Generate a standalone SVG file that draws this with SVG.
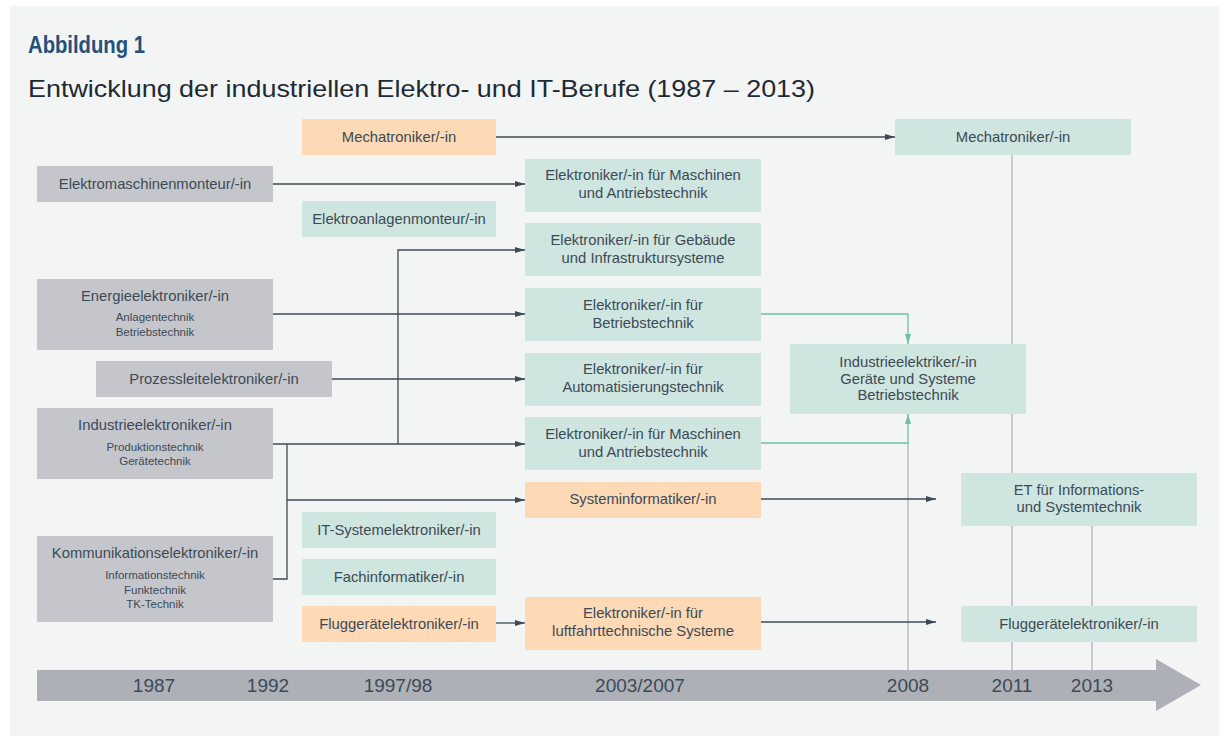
<svg xmlns="http://www.w3.org/2000/svg" width="1219" height="738" viewBox="0 0 1219 738">
<style>
.t{font-family:"Liberation Sans",Arial,sans-serif;fill:#3c4a56;text-anchor:middle;dominant-baseline:central}
.m{font-size:14.8px}
.s{font-size:11.5px}
.y{font-size:19px;font-family:"Liberation Sans",Arial,sans-serif;fill:#3c4a56;text-anchor:middle}
.g{fill:#c5c6cb}
.e{fill:#cfe5df}
.o{fill:#fdd9b5}
.c{fill:none;stroke:#3d4a55;stroke-width:1.3}
.cg{fill:none;stroke:#6cc0a6;stroke-width:1.3}
.v{fill:none;stroke:#b9bcc2;stroke-width:1.5}
</style>
<defs>
<marker id="a" viewBox="0 0 10 6" refX="10" refY="3" markerWidth="10" markerHeight="6" markerUnits="userSpaceOnUse" orient="auto"><path d="M0,0L10,3L0,6z" fill="#3d4a55"/></marker>
<marker id="ag" viewBox="0 0 10 6" refX="10" refY="3" markerWidth="10" markerHeight="6" markerUnits="userSpaceOnUse" orient="auto"><path d="M0,0L10,3L0,6z" fill="#6cc0a6"/></marker>
</defs>
<rect x="0" y="0" width="1219" height="738" fill="#ffffff"/>
<rect x="10" y="6" width="1209" height="730" fill="#f3f5f5"/>
<text x="28" y="53" font-family="Liberation Sans,Arial,sans-serif" font-size="24" font-weight="bold" fill="#24507a" textLength="117" lengthAdjust="spacingAndGlyphs">Abbildung 1</text>
<text x="28" y="97" font-family="Liberation Sans,Arial,sans-serif" font-size="24" fill="#1e2a33" textLength="787" lengthAdjust="spacingAndGlyphs">Entwicklung der industriellen Elektro- und IT-Berufe (1987 – 2013)</text>

<g id="timeline">
<path d="M37,670H1156V659L1201,685L1156,711V701H37z" fill="#aeb0b8"/>
<text class="y" x="154" y="692">1987</text>
<text class="y" x="268" y="692">1992</text>
<text class="y" x="398" y="692">1997/98</text>
<text class="y" x="640" y="692">2003/2007</text>
<text class="y" x="908" y="692">2008</text>
<text class="y" x="1012" y="692">2011</text>
<text class="y" x="1092" y="692">2013</text>
</g>

<g id="connectors">
<path class="v" d="M1012,155V670"/>
<path class="v" d="M1092,526V670"/>
<path class="v" d="M908,443V670"/>
<path class="c" d="M496,137H895" marker-end="url(#a)"/>
<path class="c" d="M273,184H525" marker-end="url(#a)"/>
<path class="c" d="M273,314H525" marker-end="url(#a)"/>
<path class="c" d="M332,379H525" marker-end="url(#a)"/>
<path class="c" d="M273,444H525" marker-end="url(#a)"/>
<path class="c" d="M398,444V250H525" marker-end="url(#a)"/>
<path class="c" d="M273,579H287V444"/>
<path class="c" d="M287,500H525" marker-end="url(#a)"/>
<path class="c" d="M496,623H525" marker-end="url(#a)"/>
<path class="c" d="M761,499H936" marker-end="url(#a)"/>
<path class="c" d="M761,622H936" marker-end="url(#a)"/>
<path class="cg" d="M761,314H908V344" marker-end="url(#ag)"/>
<path class="cg" d="M761,443H908V414" marker-end="url(#ag)"/>
</g>

<g id="n-mecha1"><rect class="o" x="302" y="119" width="194" height="36"/><text class="t m" x="399" y="137">Mechatroniker/-in</text></g>
<g id="n-emm"><rect class="g" x="37" y="166" width="236" height="36"/><text class="t m" x="155" y="184">Elektromaschinenmonteur/-in</text></g>
<g id="n-eam"><rect class="e" x="302" y="201" width="194" height="36"/><text class="t m" x="399" y="219">Elektroanlagenmonteur/-in</text></g>
<g id="n-energie"><rect class="g" x="37" y="279" width="236" height="71"/><text class="t m" x="155" y="296">Energieelektroniker/-in</text><text class="t s" x="155" y="317">Anlagentechnik</text><text class="t s" x="155" y="332">Betriebstechnik</text></g>
<g id="n-prozess"><rect class="g" x="96" y="361" width="236" height="36"/><text class="t m" x="214" y="379">Prozessleitelektroniker/-in</text></g>
<g id="n-industrie"><rect class="g" x="37" y="408" width="236" height="71"/><text class="t m" x="155" y="425">Industrieelektroniker/-in</text><text class="t s" x="155" y="447">Produktionstechnik</text><text class="t s" x="155" y="461">Gerätetechnik</text></g>
<g id="n-komm"><rect class="g" x="37" y="536" width="236" height="86"/><text class="t m" x="155" y="553">Kommunikationselektroniker/-in</text><text class="t s" x="155" y="575">Informationstechnik</text><text class="t s" x="155" y="590">Funktechnik</text><text class="t s" x="155" y="604">TK-Technik</text></g>
<g id="n-itsys"><rect class="e" x="302" y="512" width="194" height="36"/><text class="t m" x="399" y="530">IT-Systemelektroniker/-in</text></g>
<g id="n-fachinf"><rect class="e" x="302" y="559" width="194" height="36"/><text class="t m" x="399" y="577">Fachinformatiker/-in</text></g>
<g id="n-flug1"><rect class="o" x="302" y="606" width="194" height="36"/><text class="t m" x="399" y="624">Fluggerätelektroniker/-in</text></g>

<g id="n-masch1"><rect class="e" x="525" y="159" width="236" height="53"/><text class="t m" x="643" y="175">Elektroniker/-in für Maschinen</text><text class="t m" x="643" y="193">und Antriebstechnik</text></g>
<g id="n-gebaeude"><rect class="e" x="525" y="223" width="236" height="53"/><text class="t m" x="643" y="240">Elektroniker/-in für Gebäude</text><text class="t m" x="643" y="258">und Infrastruktursysteme</text></g>
<g id="n-betrieb"><rect class="e" x="525" y="288" width="236" height="53"/><text class="t m" x="643" y="305">Elektroniker/-in für</text><text class="t m" x="643" y="323">Betriebstechnik</text></g>
<g id="n-auto"><rect class="e" x="525" y="353" width="236" height="53"/><text class="t m" x="643" y="369">Elektroniker/-in für</text><text class="t m" x="643" y="387">Automatisierungstechnik</text></g>
<g id="n-masch2"><rect class="e" x="525" y="417" width="236" height="53"/><text class="t m" x="643" y="434">Elektroniker/-in für Maschinen</text><text class="t m" x="643" y="452">und Antriebstechnik</text></g>
<g id="n-sysinf"><rect class="o" x="525" y="482" width="236" height="36"/><text class="t m" x="643" y="499">Systeminformatiker/-in</text></g>
<g id="n-luft"><rect class="o" x="525" y="597" width="236" height="53"/><text class="t m" x="643" y="613">Elektroniker/-in für</text><text class="t m" x="643" y="631">luftfahrttechnische Systeme</text></g>

<g id="n-mecha2"><rect class="e" x="895" y="119" width="236" height="36"/><text class="t m" x="1013" y="137">Mechatroniker/-in</text></g>
<g id="n-ie"><rect class="e" x="790" y="344" width="236" height="70"/><text class="t m" x="908" y="362">Industrieelektriker/-in</text><text class="t m" x="908" y="379">Geräte und Systeme</text><text class="t m" x="908" y="395">Betriebstechnik</text></g>
<g id="n-et"><rect class="e" x="961" y="473" width="236" height="53"/><text class="t m" x="1079" y="490">ET für Informations-</text><text class="t m" x="1079" y="507">und Systemtechnik</text></g>
<g id="n-flug2"><rect class="e" x="961" y="606" width="236" height="36"/><text class="t m" x="1079" y="624">Fluggerätelektroniker/-in</text></g>
</svg>
